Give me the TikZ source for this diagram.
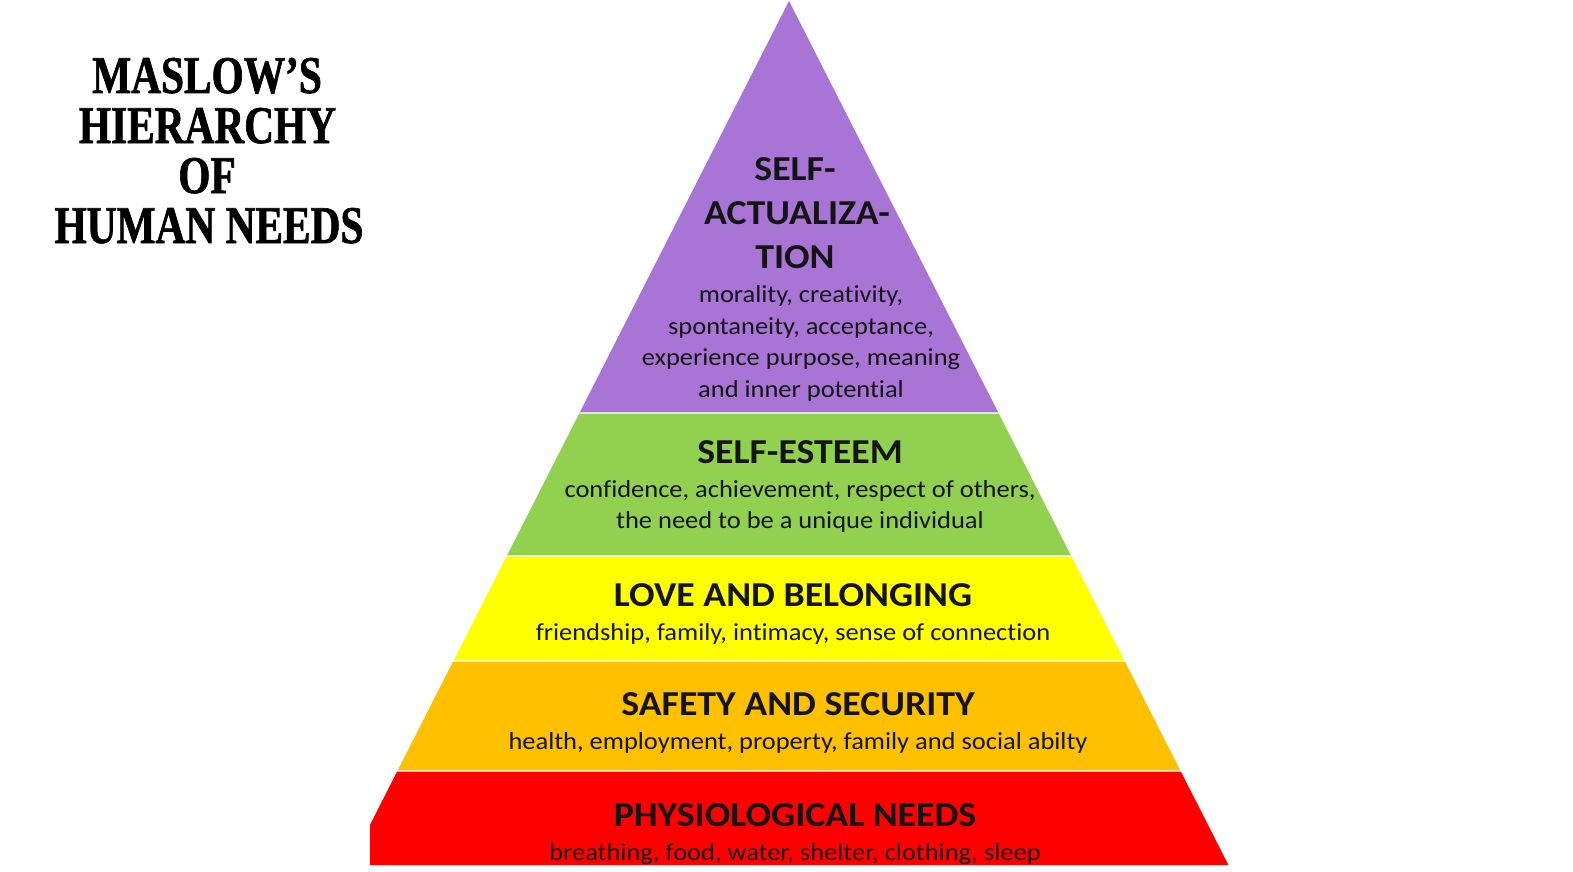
\documentclass[tikz,border=0pt]{standalone}
\usepackage{fontspec}
\newfontfamily\carl[FakeStretch=1.08,Ligatures=NoCommon]{Carlito}
\newfontfamily\ttl[FakeStretch=0.78,FakeBold=1.2]{Liberation Serif}
\definecolor{pPurple}{RGB}{168,116,214}
\definecolor{pGreen}{RGB}{146,208,80}
\definecolor{pYellow}{RGB}{255,255,0}
\definecolor{pOrange}{RGB}{255,192,0}
\definecolor{pRed}{RGB}{255,0,0}
\definecolor{txt}{RGB}{20,20,20}
\begin{document}
\begin{tikzpicture}[x=1pt,y=-1pt,
  head/.style={font=\carl\bfseries\fontsize{35}{40}\selectfont, anchor=base, inner sep=0pt, text=txt},
  body/.style={font=\carl\fontsize{24.5}{30}\selectfont, anchor=base, inner sep=0pt, text=txt},
  ttlline/.style={font=\ttl\bfseries\fontsize{53}{60}\selectfont, anchor=base, inner sep=0pt, text=black},
  sep/.style={draw=white, line width=1.2pt, opacity=0.7}]
\useasboundingbox (0,0) rectangle (1573,872);
\fill[white] (0,0) rectangle (1573,872);
% title
\node[ttlline] (t1) at (207,93) {MASLOW’S};
\node[ttlline] (t2) at (207.5,143) {HIERARCHY};
\node[ttlline] (t3) at (207,193) {OF};
\node[ttlline] (t4) at (209,243) {HUMAN NEEDS};
% pyramid
\begin{scope}
\clip (789,1) -- (1228.4,865) -- (370,865) -- (370,824.8) -- cycle;
\fill[pPurple] (300,0) rectangle (1300,413);
\fill[pGreen] (300,413) rectangle (1300,556);
\fill[pYellow] (300,556) rectangle (1300,661);
\fill[pOrange] (300,661) rectangle (1300,771);
\fill[pRed] (300,771) rectangle (1300,866);
\draw[sep] (300,413) -- (1300,413);
\draw[sep] (300,556) -- (1300,556);
\draw[sep] (300,661) -- (1300,661);
\draw[sep] (300,771) -- (1300,771);
% texts
\node[head] (h1a) at (795,180) {SELF-};
\node[head] (h1b) at (797,224) {ACTUALIZA-};
\node[head] (h1c) at (795,268) {TION};
\node[body] (b1a) at (801,302) {morality, creativity,};
\node[body] (b1b) at (801,334) {spontaneity, acceptance,};
\node[body] (b1c) at (801,365) {experience purpose, meaning};
\node[body] (b1d) at (801,397) {and inner potential};
\node[head] (h2) at (800,463) {SELF-ESTEEM};
\node[body] (b2a) at (800,497) {confidence, achievement, respect of others,};
\node[body] (b2b) at (800,528) {the need to be a unique individual};
\node[head] (h3) at (793,606) {LOVE AND BELONGING};
\node[body] (b3) at (793,640) {friendship, family, intimacy, sense of connection};
\node[head] (h4) at (798,715) {SAFETY AND SECURITY};
\node[body] (b4) at (798,749) {health, employment, property, family and social abilty};
\node[head] (h5) at (795,826) {PHYSIOLOGICAL NEEDS};
\node[body] (b5) at (795,860) {breathing, food, water, shelter, clothing, sleep};
\end{scope}
\end{tikzpicture}
\end{document}
